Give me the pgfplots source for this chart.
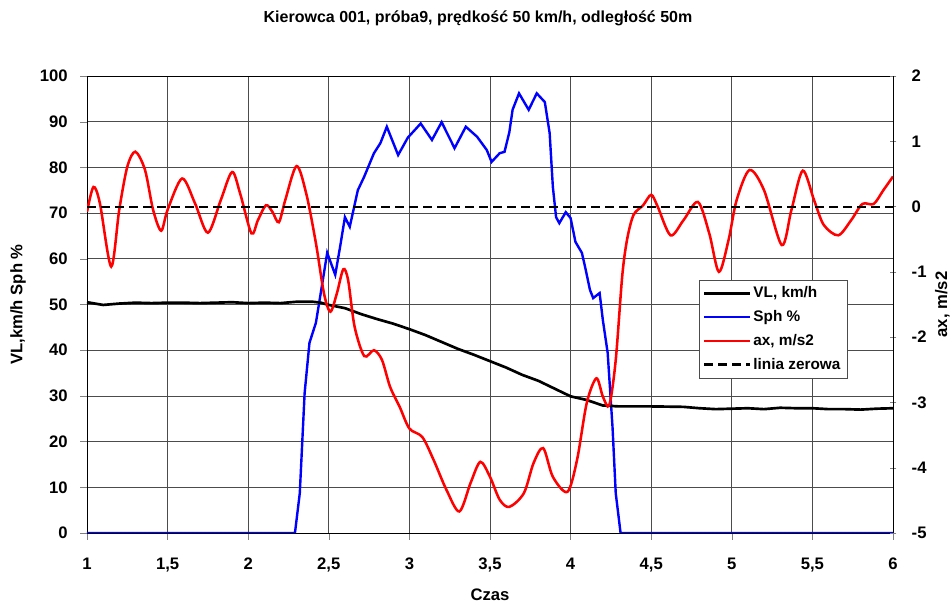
\documentclass[border=0pt]{standalone}
\usepackage{fontspec}
\setmainfont{Liberation Sans}
\usepackage{pgfplots}
\pgfplotsset{compat=1.18}

\pgfplotstableread{
x vl
1.00 50.5
1.05 50.2
1.10 49.9
1.20 50.2
1.30 50.4
1.40 50.3
1.50 50.4
1.60 50.4
1.70 50.3
1.80 50.4
1.90 50.5
2.00 50.3
2.10 50.4
2.20 50.3
2.30 50.6
2.40 50.6
2.45 50.4
2.50 49.9
2.60 49.2
2.70 47.9
2.80 46.8
2.90 45.8
3.00 44.6
3.10 43.3
3.20 41.8
3.30 40.3
3.40 39.0
3.50 37.6
3.60 36.2
3.70 34.6
3.80 33.3
3.90 31.6
4.00 29.9
4.10 29.1
4.20 27.9
4.30 27.7
4.50 27.7
4.70 27.6
4.80 27.3
4.90 27.1
5.00 27.2
5.10 27.3
5.20 27.1
5.30 27.4
5.40 27.3
5.50 27.3
5.60 27.1
5.70 27.1
5.80 27.0
5.90 27.2
6.00 27.3
}\vltab

\pgfplotstableread{
x sph
1.00 0
2.29 0
2.32 8.7
2.35 30.6
2.38 41.6
2.42 46.0
2.45 52.5
2.49 61.3
2.54 56.5
2.57 62.6
2.60 69.1
2.63 67.0
2.68 75.0
2.72 78.0
2.78 83.1
2.82 85.3
2.86 88.9
2.93 82.7
2.99 86.5
3.07 89.6
3.14 86.0
3.20 89.9
3.28 84.2
3.35 88.9
3.42 86.7
3.48 83.8
3.51 81.2
3.56 83.1
3.59 83.4
3.62 87.7
3.64 92.6
3.68 96.2
3.74 92.6
3.79 96.2
3.84 94.3
3.87 87.5
3.89 75.7
3.91 69.1
3.93 67.8
3.97 70.2
4.00 68.9
4.03 63.7
4.07 61.3
4.09 58.2
4.12 53.2
4.14 51.4
4.18 52.5
4.20 46.6
4.23 39.4
4.26 23.2
4.28 8.7
4.31 0
6.00 0
}\sphtab

\pgfplotstableread{
x ax
1.00 -0.08
1.04 0.30
1.08 0.05
1.15 -0.92
1.20 -0.05
1.25 0.61
1.30 0.84
1.36 0.56
1.41 -0.05
1.46 -0.37
1.50 -0.05
1.59 0.43
1.67 0.05
1.75 -0.40
1.83 0.10
1.90 0.53
1.95 0.20
2.02 -0.41
2.06 -0.21
2.11 0.02
2.15 -0.08
2.19 -0.24
2.23 0.10
2.30 0.62
2.36 0.20
2.42 -0.56
2.47 -1.33
2.51 -1.61
2.55 -1.33
2.59 -0.96
2.62 -1.13
2.66 -1.84
2.72 -2.29
2.78 -2.20
2.83 -2.35
2.88 -2.76
2.94 -3.07
3.00 -3.40
3.08 -3.53
3.15 -3.88
3.23 -4.34
3.31 -4.67
3.38 -4.23
3.44 -3.91
3.50 -4.14
3.56 -4.49
3.62 -4.60
3.71 -4.39
3.77 -3.93
3.83 -3.70
3.89 -4.14
3.98 -4.37
4.04 -3.88
4.10 -3.01
4.16 -2.63
4.20 -2.91
4.24 -3.04
4.28 -2.35
4.32 -1.07
4.35 -0.51
4.39 -0.13
4.45 0.02
4.50 0.18
4.54 0.00
4.62 -0.44
4.70 -0.21
4.79 0.07
4.86 -0.41
4.92 -1.00
4.98 -0.51
5.03 0.10
5.11 0.56
5.20 0.25
5.31 -0.59
5.37 -0.05
5.44 0.55
5.51 0.10
5.57 -0.28
5.66 -0.44
5.74 -0.21
5.81 0.04
5.88 0.04
5.94 0.25
6.00 0.46
}\axtab

\begin{document}
\begin{tikzpicture}[font=\fontsize{12.5}{15}\selectfont\bfseries]
\pgfplotsset{
  every axis/.append style={
    scale only axis, width=604.5pt, height=342.75pt,
    xmin=1, xmax=6,
    tick label style={font=\fontsize{12.5}{15}\selectfont\bfseries},
    label style={font=\fontsize{12.5}{15}\selectfont\bfseries},
    /pgf/number format/assume math mode=true,
    /pgf/number format/use comma,
    major tick length=5pt,
  }
}
\begin{axis}[name=main,
  ymin=0, ymax=100, ytick={0,10,20,30,40,50,60,70,80,90,100},
  xtick={1,1.5,2,2.5,3,3.5,4,4.5,5,5.5,6},
  xtick pos=bottom, ytick pos=left, tick align=outside,
  grid=major, grid style={black!70, line width=0.55pt},
  axis line style={black, line width=0.6pt},
  xticklabel style={yshift=-10pt},
  yticklabel style={xshift=-6pt},
  xlabel={Czas}, ylabel={VL,km/h Sph \%},
  every axis x label/.style={at={(rel axis cs:0.5,0)}, yshift=-46pt, anchor=center},
  every axis y label/.style={at={(rel axis cs:0,0.5)}, xshift=-51.75pt, rotate=90, anchor=center},
  title={Kierowca 001, próba9, prędkość 50 km/h, odległość 50m},
  every axis title/.style={at={(rel axis cs:0.5,1)}, yshift=43.5pt, xshift=-9pt, anchor=center, font=\fontsize{12}{14}\selectfont\bfseries},
]
\addplot[blue, line width=1.8pt] table[x=x, y=sph] {\sphtab};
\addplot[black, line width=2pt] table[x=x, y=vl] {\vltab};
\end{axis}

\begin{axis}[
  ymin=-5, ymax=2, ytick={-5,-4,-3,-2,-1,0,1,2},
  axis y line*=right, axis x line=none,
  tick align=center,
  axis line style={black, line width=0.6pt},
  yticklabel style={xshift=8pt},
  ylabel={ax, m/s2},
  every axis y label/.style={at={(rel axis cs:1,0.5)}, xshift=37pt, rotate=90, anchor=center},
  legend style={at={(0.759,0.554)}, anchor=north west, draw=black!70,
    font=\fontsize{11.5}{14}\selectfont\bfseries, row sep=4pt, inner sep=3pt},
  legend cell align=left,
  legend image code/.code={\draw[line width=1.8pt, #1] (0pt,0pt) -- (34pt,0pt);},
]
\addlegendimage{black, line width=1.8pt}
\addlegendentry{VL, km/h}
\addlegendimage{blue, line width=1.8pt}
\addlegendentry{Sph \%}
\addplot[red, line width=1.9pt, smooth, tension=0.5] table[x=x, y=ax] {\axtab};
\addlegendentry{ax, m/s2}
\addplot[black, line width=1.5pt, dash pattern=on 6.5pt off 4pt] coordinates {(1,0) (6,0)};
\addlegendentry{linia zerowa}
\end{axis}

\pgfresetboundingbox
\path ([xshift=-65.25pt,yshift=-54pt]main.south west) rectangle ([xshift=44.25pt,yshift=57pt]main.north east);
\end{tikzpicture}
\end{document}
